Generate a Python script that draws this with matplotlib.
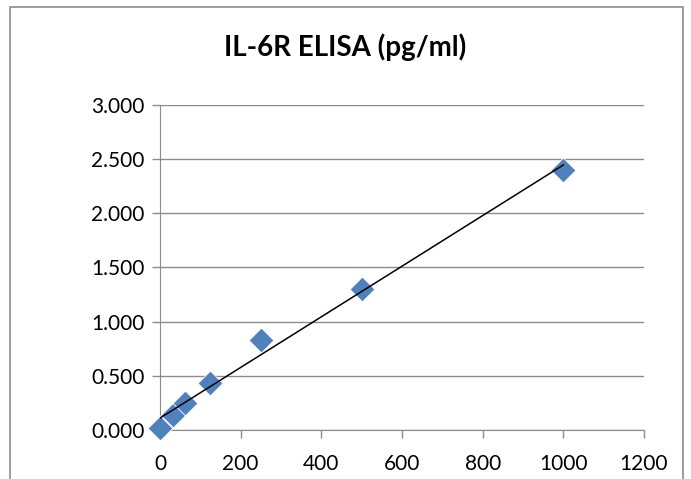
import matplotlib.pyplot as plt
import numpy as np
from matplotlib.patches import Rectangle

# Data
conc = [0, 31.25, 62.5, 125, 250, 500, 1000]
od = [0.02, 0.14, 0.25, 0.43, 0.83, 1.30, 2.40]

plt.rcParams['font.family'] = ['Lato', 'DejaVu Sans']

fig = plt.figure(figsize=(6.91, 4.79), dpi=100)
ax = fig.add_axes([0.2315, 0.1023, 0.932 - 0.2315, 0.7808 - 0.1023])

# chart area border
fig.patches.append(Rectangle((10 / 691, -0.2), 673 / 691, 1.2 - 7 / 479,
                             transform=fig.transFigure, fill=False,
                             edgecolor='#8c8c8c', linewidth=1.2))

ax.scatter(conc, od, marker='D', s=160, color='#4F81BD', zorder=3,
           edgecolors='white', linewidths=0.6, clip_on=False)

# linear trendline
k, b = np.polyfit(conc, od, 1)
xs = np.array([0, max(conc)])
ax.plot(xs, k * xs + b, color='black', linewidth=1.1, zorder=4)

ax.set_xlim(0, 1200)
ax.set_ylim(0, 3)
ax.set_xticks(np.arange(0, 1201, 200))
ax.set_yticks(np.arange(0, 3.01, 0.5))
ax.set_yticklabels(['{:.3f}'.format(v) for v in np.arange(0, 3.01, 0.5)])
ax.grid(axis='y', color='#8c8c8c', linewidth=1)
ax.set_axisbelow(True)
for s in ['top', 'right']:
    ax.spines[s].set_visible(False)
for s in ['left', 'bottom']:
    ax.spines[s].set_color('#8c8c8c')
ax.tick_params(axis='both', colors='#8c8c8c', labelcolor='black', labelsize=15,
               length=6, width=1)
ax.tick_params(axis='x', pad=11)
ax.tick_params(axis='y', pad=5)

fig.text(0.5, 1 - 47 / 479, 'IL-6R ELISA (pg/ml)', ha='center', va='center',
         fontsize=20, fontweight='bold')

plt.savefig('out.png', dpi=100)
